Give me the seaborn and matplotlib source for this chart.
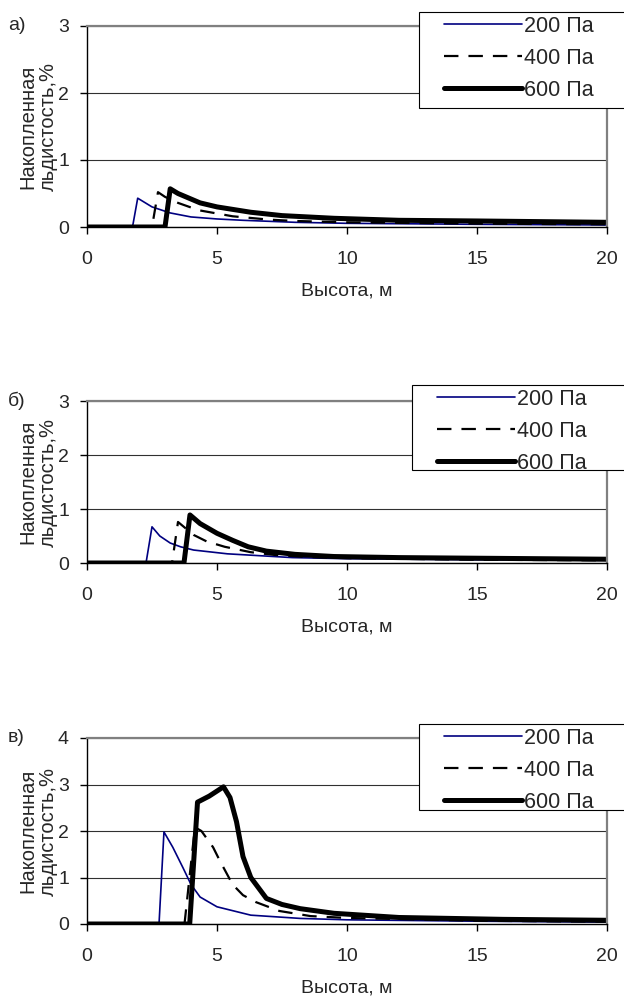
import matplotlib
matplotlib.use("Agg")
import matplotlib.pyplot as plt
from matplotlib.patches import Rectangle
import pandas as pd
import seaborn as sns

# panel а)
a_x200 = [0, 1.75, 1.95, 2.5, 3.2, 4.0, 5.0, 6.0, 8.0, 10, 15, 20]
a_y200 = [0, 0, 0.43, 0.30, 0.21, 0.15, 0.12, 0.10, 0.07, 0.055, 0.04, 0.03]
a_x400 = [0, 2.5, 2.73, 3.0, 3.5, 4.3, 5.6, 7.0, 8.0, 10, 15, 20]
a_y400 = [0, 0, 0.52, 0.45, 0.36, 0.25, 0.16, 0.11, 0.09, 0.07, 0.05, 0.04]
a_x600 = [0, 3.0, 3.2, 3.5, 4.35, 5.0, 6.3, 7.5, 9.5, 12, 15, 20]
a_y600 = [0, 0, 0.57, 0.50, 0.36, 0.30, 0.22, 0.17, 0.13, 0.10, 0.09, 0.07]

# panel б)
b_x200 = [0, 2.27, 2.5, 2.8, 3.2, 3.6, 4.1, 5.4, 7.9, 10, 15, 20]
b_y200 = [0, 0, 0.67, 0.50, 0.37, 0.30, 0.24, 0.17, 0.10, 0.08, 0.06, 0.05]
b_x400 = [0, 3.27, 3.5, 4.1, 4.6, 5.3, 6.3, 7.2, 8.5, 10, 15, 20]
b_y400 = [0, 0, 0.76, 0.52, 0.40, 0.30, 0.20, 0.15, 0.11, 0.09, 0.06, 0.05]
b_x600 = [0, 3.73, 3.96, 4.35, 5.0, 5.6, 6.2, 6.9, 8.0, 9.5, 12, 14.6, 20]
b_y600 = [0, 0, 0.89, 0.73, 0.55, 0.42, 0.30, 0.22, 0.16, 0.12, 0.10, 0.09, 0.07]

# panel в)
c_x200 = [0, 2.77, 2.96, 3.3, 3.7, 4.0, 4.35, 5.0, 6.3, 8.2, 10, 15, 20]
c_y200 = [0, 0, 1.98, 1.65, 1.20, 0.85, 0.58, 0.37, 0.19, 0.12, 0.09, 0.06, 0.04]
c_x400 = [0, 3.75, 4.15, 4.4, 4.85, 5.1, 5.6, 6.0, 6.5, 7.4, 8.6, 10, 15, 20]
c_y400 = [0, 0, 2.08, 2.0, 1.65, 1.37, 0.85, 0.62, 0.47, 0.28, 0.17, 0.13, 0.07, 0.05]
c_x600 = [0, 3.95, 4.25, 4.7, 5.25, 5.5, 5.75, 6.0, 6.3, 6.9, 7.5, 8.2, 9.5, 12, 16, 20]
c_y600 = [0, 0, 2.62, 2.75, 2.95, 2.72, 2.2, 1.45, 1.0, 0.55, 0.42, 0.33, 0.23, 0.14, 0.10, 0.08]

series_labels = ["200 Па", "400 Па", "600 Па"]
panel_letters = ["а)", "б)", "в)"]
y_max = [3, 3, 4]
x_ticks = [0, 5, 10, 15, 20]

panels = [
    [(a_x200, a_y200), (a_x400, a_y400), (a_x600, a_y600)],
    [(b_x200, b_y200), (b_x400, b_y400), (b_x600, b_y600)],
    [(c_x200, c_y200), (c_x400, c_y400), (c_x600, c_y600)],
]

sns.set_style("white")
plt.rcParams["font.family"] = ["Liberation Sans", "DejaVu Sans"]
plt.rcParams["font.size"] = 14

W, H = 624, 1001
fig = plt.figure(figsize=(W / 100, H / 100), dpi=100)

# axes boxes in pixels: (top, bottom)
boxes = [(26, 227), (401, 563), (738, 924)]
# legend boxes in pixels: (left, top, bottom)
legend_boxes = [(419, 12, 108), (412, 385, 470), (419, 724, 810)]
left_px, right_px = 87, 607

styles = [
    dict(color="#000080", linewidth=1.2, linestyle="-"),
    dict(color="black", linewidth=1.6, linestyle=(0, (6.5, 4.5))),
    dict(color="black", linewidth=3.6, linestyle="-"),
]

for i, series in enumerate(panels):
    top, bottom = boxes[i]
    ax = fig.add_axes([left_px / W, 1 - bottom / H,
                       (right_px - left_px) / W, (bottom - top) / H])

    for (xs, ys), lab, st in zip(series, series_labels, styles):
        df = pd.DataFrame({"x": xs, "y": ys})
        sns.lineplot(data=df, x="x", y="y", ax=ax, label=lab, **st)

    ax.set_xlim(0, 20)
    ax.set_ylim(0, y_max[i])
    ax.set_xticks(x_ticks)
    ax.set_yticks(range(0, y_max[i] + 1))
    ax.grid(axis="y", color="#303030", linewidth=0.8)
    ax.grid(axis="x", visible=False)
    ax.set_axisbelow(True)

    for side in ["top", "right"]:
        ax.spines[side].set_color("#808080")
        ax.spines[side].set_linewidth(1.6)
    for side in ["left", "bottom"]:
        ax.spines[side].set_color("black")
        ax.spines[side].set_linewidth(1.0)

    ax.tick_params(axis="both", which="major", bottom=True, left=True,
                   direction="out", length=5, width=1, color="black",
                   labelsize=14)
    ax.tick_params(axis="x", pad=12)
    ax.tick_params(axis="y", pad=8)

    ax.set_xlabel("Высота, м", fontsize=14, labelpad=11)
    ax.set_ylabel("Накопленная\nльдистость,%", fontsize=14.5, linespacing=1.1)
    ax.yaxis.set_label_coords(-0.056, 0.5)

    ax.text(-0.152, 1.0, panel_letters[i], transform=ax.transAxes,
            ha="left", va="center", fontsize=14)

    # legend frame, running off the right edge like the original
    lx, ltop, lbot = legend_boxes[i]
    frame = Rectangle((lx / W, 1 - lbot / H), (W + 20 - lx) / W,
                      (lbot - ltop) / H, transform=fig.transFigure,
                      facecolor="white", edgecolor="black",
                      linewidth=0.8, zorder=5, clip_on=False)
    ax.add_artist(frame)
    leg = ax.legend(loc="upper left",
                    bbox_to_anchor=((lx + 25) / W, 1 - (ltop + 4) / H),
                    bbox_transform=fig.transFigure,
                    frameon=False, fontsize=15.5,
                    handlelength=3.6, handletextpad=0.1,
                    borderpad=0, labelspacing=0.5, borderaxespad=0)
    leg.set_zorder(6)

fig.savefig("out.png", dpi=100)
